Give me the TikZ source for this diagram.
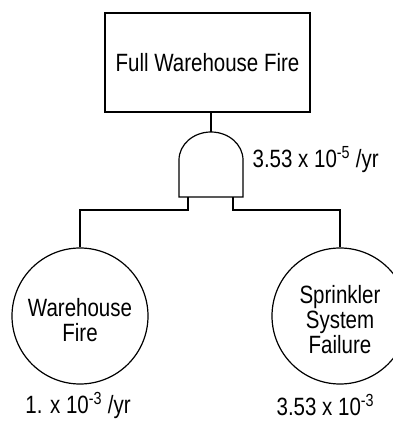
\documentclass[tikz,border=0pt]{standalone}
\usepackage{fontspec}
\setmainfont[FakeStretch=0.82]{Liberation Sans}
\begin{document}
\begin{tikzpicture}[x=1pt,y=1pt,line width=1.2pt,
  txt/.style={font=\fontsize{25}{25}\selectfont, inner sep=0pt},
  event/.style={draw, circle, minimum size=136pt, inner sep=0pt},
  box/.style={draw, minimum width=205pt, minimum height=99pt, inner sep=0pt},
  wire/.style={line width=1.2pt}]
\useasboundingbox (0,0) rectangle (393,423);
% top event
\node[box, txt] (top) at (207.5,360.5) {Full Warehouse Fire};
% AND gate
\coordinate (gtop) at (211,291);
\coordinate (gl) at (188,226);
\coordinate (gr) at (233,226);
\draw (179,226) -- (179,263) arc[start angle=180, end angle=0, x radius=32, y radius=28] -- (243,226) -- cycle;
\node[txt, anchor=west] (glabel) at (252,263) {3.53 x 10\textsuperscript{-5} /yr};
% basic events
\node[event] (wf) at (80,107) {};
\node[txt, align=center] (wft) at (80,103) {Warehouse\\Fire};
\node[event] (ss) at (340,107) {};
\node[txt, align=center] (sst) at (340,103) {Sprinkler\\System\\Failure};
\node[txt] (wfl) at (78,18) {1. x 10\textsuperscript{-3} /yr};
\node[txt, anchor=west] (ssl) at (276,18) {3.53 x 10\textsuperscript{-3}};
% connectors
\draw[wire] (top.south -| gtop) -- (gtop);
\draw[wire] (gl) -- ++(0,-13) -| (wf.north);
\draw[wire] (gr) -- ++(0,-13) -| (ss.north);
\end{tikzpicture}
\end{document}
